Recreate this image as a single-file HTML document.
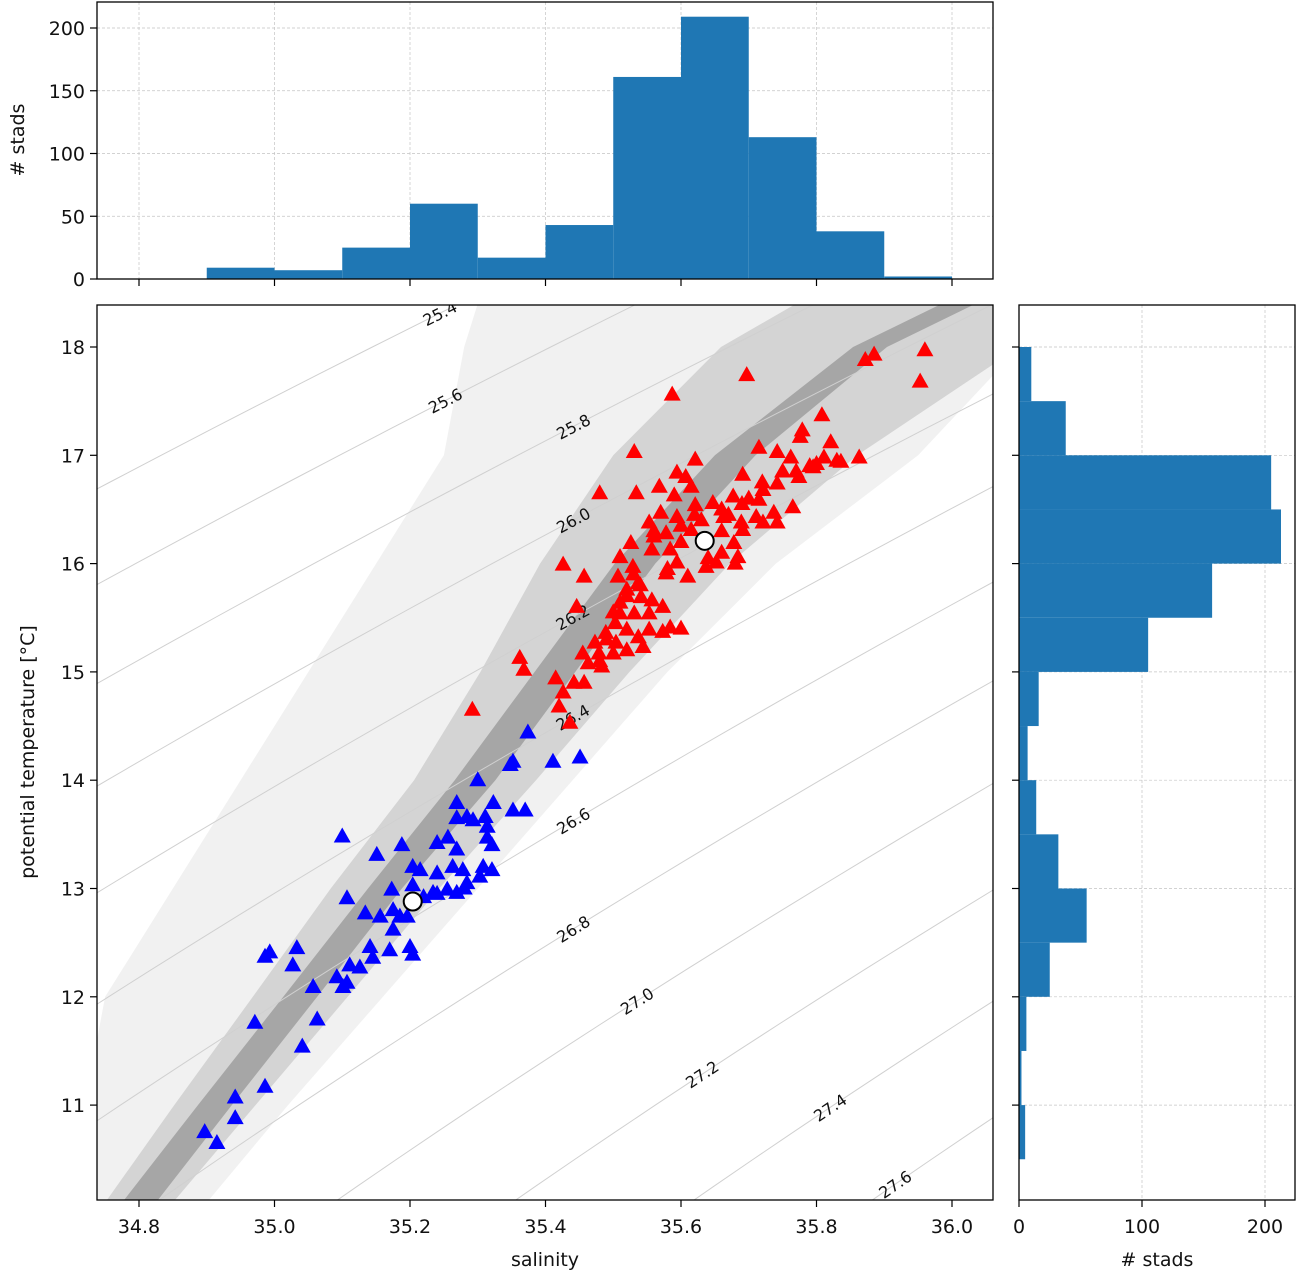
<!DOCTYPE html>
<html><head><meta charset="utf-8"><style>
html,body{margin:0;padding:0;width:1299px;height:1276px;background:#fff;overflow:hidden;}
svg{display:block;}
svg text{font-family:"DejaVu Sans","Liberation Sans",sans-serif;fill:#111;}
</style></head><body>
<svg id="fig" width="1299" height="1276" viewBox="0 0 1299 1276" xmlns="http://www.w3.org/2000/svg">
<rect width="1299" height="1276" fill="#fff"/>
<defs><clipPath id="mainclip"><rect x="97" y="305" width="896" height="895"/></clipPath></defs>
<g id="top"></g>
<g id="main"></g>
<g id="right"></g>
</svg>
<script>
// ---- data ----
const salBinEdges = [34.9,35.0,35.1,35.2,35.3,35.4,35.5,35.6,35.7,35.8,35.9,36.0];
const salCounts = [9,7,25,60,17,43,161,209,113,38,2];
const tempBinEdges = [10.5,11,11.5,12,12.5,13,13.5,14,14.5,15,15.5,16,16.5,17,17.5,18];
const tempCounts = [5,2,6,25,55,32,14,7,16,105,157,213,205,38,10];
const salTicks = [34.8,35.0,35.2,35.4,35.6,35.8,36.0];
const salTickLabels = ["34.8","35.0","35.2","35.4","35.6","35.8","36.0"];
const tempTicks = [11,12,13,14,15,16,17,18];
const countTicksTop = [0,50,100,150,200];
const countTicksRight = [0,100,200];
const sigmaLevels = [25.4,25.6,25.8,26.0,26.2,26.4,26.6,26.8,27.0,27.2,27.4,27.6];
const sigmaLabelS = [35.244,35.252,35.441,35.441,35.440,35.440,35.441,35.441,35.535,35.631,35.820,35.916];
const cloudT = [10.1,11,12,13,14,15,16,17,18,18.4];
const cloudCenterS = [34.80,34.912,35.038,35.163,35.296,35.414,35.532,35.68,35.879,36.01];
const cloudCoreHalf = [0.025,0.025,0.025,0.025,0.03,0.03,0.03,0.03,0.025,0.025];
const cloudMidHalf = [0.05,0.06,0.07,0.08,0.09,0.11,0.14,0.18,0.22,0.24];
const cloudOuterLeft = [34.70,34.72,34.75,34.85,34.95,35.05,35.15,35.25,35.28,35.30];
const cloudOuterRight = [34.90,35.02,35.16,35.30,35.44,35.58,35.74,35.95,36.10,36.10];
const blueS = [35.374,35.411,35.348,35.352,35.300,35.269,35.323,35.352,35.370,35.269,35.284,35.293,35.311,35.314,35.314,35.321,35.100,35.151,35.188,35.240,35.256,35.269,35.204,35.215,35.240,35.263,35.278,35.308,35.321,35.303,35.284,35.173,35.204,35.234,35.255,35.269,35.107,35.134,35.175,35.156,35.185,35.196,35.175,35.141,35.170,35.200,35.204,35.145,34.993,34.986,35.033,35.027,35.111,35.126,35.092,35.107,35.057,35.101,34.971,35.063,35.041,34.986,34.942,34.942,34.897,34.915,35.451,35.22,35.24,35.28];
const blueT = [14.44,14.17,14.14,14.17,14.00,13.79,13.79,13.72,13.72,13.65,13.66,13.63,13.66,13.57,13.47,13.40,13.48,13.31,13.40,13.42,13.47,13.36,13.20,13.17,13.14,13.20,13.17,13.20,13.17,13.11,13.05,12.99,13.03,12.96,12.99,12.96,12.91,12.77,12.80,12.74,12.74,12.74,12.62,12.46,12.43,12.46,12.39,12.36,12.41,12.37,12.45,12.29,12.29,12.27,12.18,12.13,12.09,12.09,11.76,11.79,11.54,11.17,11.07,10.88,10.75,10.65,14.21,12.92,12.95,13.00];
const redS = [35.960,35.885,35.872,35.953,35.697,35.587,35.808,35.779,35.776,35.821,35.863,35.836,35.811,35.795,35.762,35.742,35.715,35.531,35.621,35.594,35.607,35.691,35.774,35.742,35.721,35.480,35.534,35.568,35.590,35.615,35.677,35.765,35.715,35.711,35.737,35.742,35.721,35.647,35.621,35.570,35.553,35.594,35.663,35.689,35.691,35.578,35.615,35.526,35.557,35.584,35.678,35.684,35.652,35.637,35.510,35.529,35.594,35.578,35.610,35.507,35.537,35.426,35.457,35.520,35.510,35.541,35.557,35.573,35.510,35.531,35.553,35.446,35.503,35.520,35.584,35.600,35.573,35.553,35.537,35.489,35.473,35.504,35.544,35.455,35.479,35.500,35.520,35.463,35.483,35.362,35.368,35.415,35.442,35.457,35.426,35.420,35.292,35.436,35.60,35.63,35.66,35.64,35.60,35.56,35.75,35.79,35.83,35.70,35.67,35.54,35.52,35.49,35.58,35.62,35.66,35.69,35.72,35.77,35.80,35.48,35.50,35.53,35.56,35.66,35.68];
const redT = [17.97,17.93,17.88,17.68,17.74,17.56,17.37,17.23,17.17,17.12,16.98,16.94,16.98,16.89,16.98,17.03,17.07,17.03,16.96,16.84,16.80,16.82,16.80,16.74,16.68,16.65,16.65,16.71,16.63,16.71,16.62,16.52,16.59,16.43,16.47,16.38,16.38,16.56,16.54,16.47,16.38,16.43,16.43,16.38,16.31,16.28,16.31,16.19,16.13,16.13,16.19,16.06,16.01,15.97,16.06,15.97,16.01,15.91,15.88,15.88,15.82,15.99,15.88,15.76,15.64,15.69,15.66,15.60,15.54,15.54,15.54,15.60,15.45,15.39,15.41,15.40,15.37,15.39,15.32,15.36,15.27,15.27,15.23,15.17,15.17,15.17,15.20,15.08,15.05,15.13,15.02,14.94,14.90,14.90,14.81,14.68,14.65,14.53,16.35,16.40,16.30,16.05,16.20,16.25,16.85,16.90,16.95,16.60,16.45,15.80,15.70,15.30,15.95,16.45,16.50,16.55,16.75,16.85,16.92,15.10,15.55,15.90,16.30,16.10,16.00];
const meanS = [35.635,35.204];
const meanT = [16.21,12.88];

// ---- scales ----
const NS="http://www.w3.org/2000/svg";
const sx = s => 139 + (s-34.8)*677.5;
const ty = t => 347 + (18-t)*108.3;
const cyTop = c => 279 - c*(251/200);
const cxRight = c => 1019 + c*1.23;
function mk(tag, attrs, parent){const e=document.createElementNS(NS,tag);for(const k in attrs)e.setAttribute(k,attrs[k]);parent.appendChild(e);return e;}
const G={top:document.getElementById('top'),main:document.getElementById('main'),right:document.getElementById('right')};
const grid={stroke:'#c4c4c4','stroke-width':0.7,'stroke-dasharray':'3,2'};
const FS=19;

// ===== top histogram =====
(function(){
 const g=G.top;
 countTicksTop.forEach(c=>{const l=mk('line',Object.assign({x1:97,x2:993,y1:cyTop(c),y2:cyTop(c)},grid),g);
 
 });
 salTicks.forEach(s=>{const l=mk('line',Object.assign({x1:sx(s),x2:sx(s),y1:2,y2:279},grid),g);
 
 });
 salCounts.forEach((c,i)=>{const x0=sx(salBinEdges[i]),x1=sx(salBinEdges[i+1]);
  const r=mk('rect',{x:x0,y:cyTop(c),width:x1-x0,height:279-cyTop(c),fill:'#1f77b4'},g);
  
  });
 mk('rect',{x:97,y:2,width:896,height:277,fill:'none',stroke:'#000','stroke-width':1.3},g);
 countTicksTop.forEach(c=>{mk('line',{x1:90,x2:97,y1:cyTop(c),y2:cyTop(c),stroke:'#000','stroke-width':1.2},g);
  const t=mk('text',{x:85,y:cyTop(c)+7,'text-anchor':'end','font-size':FS},g);t.textContent=c;
  
  });
 salTicks.forEach(s=>mk('line',{x1:sx(s),x2:sx(s),y1:279,y2:286,stroke:'#000','stroke-width':1.2},g));
 const yl=mk('text',{x:0,y:0,'text-anchor':'middle','font-size':FS,transform:'translate(24,140) rotate(-90)'},g);yl.textContent='# stads';
 
 
})();

// ===== main T-S diagram =====
(function(){
 const g=mk('g',{'clip-path':'url(#mainclip)'},G.main);
 function band(left,right,fill,op,name){
  let pts=[];cloudT.forEach((t,i)=>pts.push(sx(left[i])+','+ty(t)));
  for(let i=cloudT.length-1;i>=0;i--)pts.push(sx(right[i])+','+ty(cloudT[i]));
  const p=mk('polygon',{points:pts.join(' '),fill:fill,'fill-opacity':op},g);
  
  }
 band(cloudOuterLeft,cloudOuterRight,'#f1f1f1',1,'scatter-cloud-outer');
 band(cloudCenterS.map((c,i)=>c-cloudMidHalf[i]),cloudCenterS.map((c,i)=>c+cloudMidHalf[i]),'#d4d4d4',1,'scatter-cloud-mid');
 band(cloudCenterS.map((c,i)=>c-cloudCoreHalf[i]),cloudCenterS.map((c,i)=>c+cloudCoreHalf[i]),'#a6a6a6',1,'scatter-cloud-core');
 const C=1.671;
 const sOf=(lev,t)=>(lev-C+0.09*t+0.0042*t*t)/0.76;
 sigmaLevels.forEach((lev,k)=>{
  let pts=[];for(let t=8;t<=20;t+=0.25)pts.push(sx(sOf(lev,t))+','+ty(t));
  const pl=mk('polyline',{points:pts.join(' '),fill:'none',stroke:'#d0d0d0','stroke-width':1},g);
  
  
  const s=sigmaLabelS[k];
  let lo=5,hi=25;for(let i=0;i<40;i++){const m=(lo+hi)/2;if(sOf(lev,m)<s)lo=m;else hi=m;}
  const t=(lo+hi)/2;const x=sx(s),y=ty(t);
  const dx=sx(sOf(lev,t+0.1))-sx(sOf(lev,t-0.1)),dy=ty(t+0.1)-ty(t-0.1);
  const ang=Math.atan2(dy,dx)*180/Math.PI;
  const tx=mk('text',{x:0,y:6,'text-anchor':'middle','font-size':16,fill:'#222',transform:`translate(${x},${y}) rotate(${ang})`},g);
  tx.textContent=lev.toFixed(1);
  
  
 });
 function tri(s,t,color,name){const x=sx(s),y=ty(t);
  const p=mk('polygon',{points:`${x},${y-9} ${x-8.5},${y+6} ${x+8.5},${y+6}`,fill:color},g);
  
  }
 blueS.forEach((s,i)=>tri(s,blueT[i],'#0000ff','blue-station-marker'));
 redS.forEach((s,i)=>tri(s,redT[i],'#ff0000','red-station-marker'));
 meanS.forEach((s,i)=>{const c=mk('circle',{cx:sx(s),cy:ty(meanT[i]),r:9,fill:'#fff',stroke:'#000','stroke-width':2},g);
  
  });
 const m=G.main;
 mk('rect',{x:97,y:305,width:896,height:895,fill:'none',stroke:'#000','stroke-width':1.3},m);
 salTicks.forEach((s,i)=>{mk('line',{x1:sx(s),x2:sx(s),y1:1200,y2:1207,stroke:'#000','stroke-width':1.2},m);
  const t=mk('text',{x:sx(s),y:1233,'text-anchor':'middle','font-size':FS},m);t.textContent=salTickLabels[i];
  
  });
 tempTicks.forEach(v=>{mk('line',{x1:90,x2:97,y1:ty(v),y2:ty(v),stroke:'#000','stroke-width':1.2},m);
  const t=mk('text',{x:85,y:ty(v)+7,'text-anchor':'end','font-size':FS},m);t.textContent=v;
  
  });
 const xl=mk('text',{x:545,y:1266,'text-anchor':'middle','font-size':FS},m);xl.textContent='salinity';
 
 
 const yl=mk('text',{x:0,y:0,'text-anchor':'middle','font-size':FS,transform:'translate(34,752) rotate(-90)'},m);yl.textContent='potential temperature [°C]';
 
 
})();

// ===== right histogram =====
(function(){
 const g=G.right;
 tempTicks.forEach(v=>{const l=mk('line',Object.assign({x1:1019,x2:1295,y1:ty(v),y2:ty(v)},grid),g);
 
 });
 countTicksRight.forEach(c=>{const l=mk('line',Object.assign({x1:cxRight(c),x2:cxRight(c),y1:305,y2:1200},grid),g);
 
 });
 tempCounts.forEach((c,i)=>{const y0=ty(tempBinEdges[i+1]),y1=ty(tempBinEdges[i]);
  const r=mk('rect',{x:1019,y:y0,width:cxRight(c)-1019,height:y1-y0,fill:'#1f77b4'},g);
  
  });
 mk('rect',{x:1019,y:305,width:276,height:895,fill:'none',stroke:'#000','stroke-width':1.3},g);
 tempTicks.forEach(v=>mk('line',{x1:1012,x2:1019,y1:ty(v),y2:ty(v),stroke:'#000','stroke-width':1.2},g));
 countTicksRight.forEach(c=>{mk('line',{x1:cxRight(c),x2:cxRight(c),y1:1200,y2:1207,stroke:'#000','stroke-width':1.2},g);
  const t=mk('text',{x:cxRight(c),y:1233,'text-anchor':'middle','font-size':FS},g);t.textContent=c;
  
  });
 const xl=mk('text',{x:1157,y:1266,'text-anchor':'middle','font-size':FS},g);xl.textContent='# stads';
 
 
})();
</script>
</body></html>
